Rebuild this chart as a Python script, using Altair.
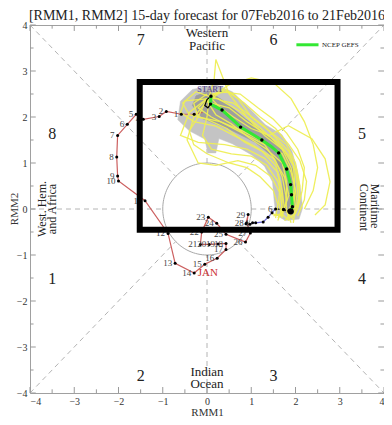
import altair as alt
import pandas as pd
import numpy as np

# ---------------- data ----------------
title_text = "[RMM1, RMM2] 15-day forecast for 07Feb2016 to 21Feb2016"

dec_rmm1 = [-0.10, -0.29]
dec_rmm2 = [2.10, 2.06]

jan_days = list(range(1, 32))
jan_rmm1 = [-0.58, -0.92, -1.08, -1.44, -1.60, -1.80, -2.02, -2.04, -2.02, -2.00,
            -1.40, -0.88, -0.72, -0.29, -0.05, 0.23, 0.43, 0.43, 0.25, 0.05,
            -0.15, -0.12, 0.03, 0.22, 0.43, 0.87, 0.98, 0.90, 0.93, 0.88, 0.97]
jan_rmm2 = [2.06, 2.12, 2.01, 1.95, 2.06, 1.84, 1.60, 1.13, 0.72, 0.61,
            0.18, -0.53, -1.18, -1.39, -1.20, -1.07, -0.88, -0.75, -0.76, -0.77,
            -0.77, -0.50, -0.18, -0.31, -0.55, -0.72, -0.52, -0.30, -0.12, -0.32, -0.33]

feb_days = [1, 2, 3, 4, 5, 6]
feb_rmm1 = [1.03, 1.10, 1.27, 1.38, 1.47, 1.55]
feb_rmm2 = [-0.30, -0.30, -0.28, -0.18, -0.08, 0.00]

link_rmm1 = [1.55, 1.73, 1.89]
link_rmm2 = [0.00, -0.01, -0.07]

mean_rmm1 = [0.09, 0.08, 0.34, 0.55, 0.76, 1.00, 1.24, 1.45, 1.62, 1.80, 1.89, 1.91, 1.93, 1.89]
mean_rmm2 = [2.45, 2.28, 2.15, 1.97, 1.78, 1.64, 1.50, 1.36, 1.22, 0.87, 0.53, 0.31, 0.05, -0.05]
dot_rmm1 = [0.09, 0.08, 0.34, 0.76, 1.24, 1.62, 1.80, 1.89, 1.91, 1.93, 1.73]
dot_rmm2 = [2.45, 2.28, 2.15, 1.78, 1.50, 1.22, 0.87, 0.53, 0.31, 0.05, -0.01]

start_rmm1 = [0.09, 0.00, -0.05, 0.02, 0.08]
start_rmm2 = [2.45, 2.38, 2.25, 2.20, 2.28]

outer_rmm1 = [-0.60, -0.33, 0.20, 0.57, 0.87, 1.32, 1.69, 1.92, 2.05, 2.12, 2.16, 2.08, 1.77,
              1.56, 1.52, 1.48, 1.30, 1.02, 0.57, 0.27, 0.20, 0.02, -0.05, -0.40, -0.66]
outer_rmm2 = [2.34, 2.60, 2.70, 2.55, 2.27, 1.83, 1.62, 1.26, 0.81, 0.38, 0.02, -0.22, -0.25,
              -0.13, 0.16, 0.59, 0.93, 1.17, 1.42, 1.53, 1.22, 1.22, 1.52, 1.70, 1.94]
inner_rmm1 = [-0.33, -0.10, 0.49, 1.09, 1.54, 1.69, 1.73, 1.69, 1.96, 2.03, 1.96, 1.77,
              1.39, 0.87, 0.42, 0.04, -0.25]
inner_rmm2 = [2.25, 1.96, 1.74, 1.45, 1.09, 0.66, 0.23, -0.05, -0.13, 0.23, 0.81, 1.24,
              1.60, 1.96, 2.32, 2.57, 2.46]

members = [
    [(0.00, 2.50), (-0.30, 2.30), (-0.20, 2.00), (0.30, 1.90), (0.80, 1.70), (1.30, 1.45), (1.70, 1.20), (1.90, 0.80), (2.00, 0.40), (1.95, 0.00), (1.80, -0.20)],
    [(0.10, 2.40), (0.40, 2.60), (0.70, 2.40), (1.00, 2.00), (1.40, 1.70), (1.80, 1.40), (2.00, 1.00), (2.10, 0.50), (2.05, 0.10), (1.85, -0.15)],
    [(0.00, 2.40), (-0.40, 2.10), (-0.60, 1.60), (-0.20, 1.45), (0.40, 1.40), (0.90, 1.30), (1.30, 1.10), (1.60, 0.80), (1.70, 0.40), (1.75, 0.00), (1.60, -0.20)],
    [(0.10, 2.40), (0.30, 2.20), (0.60, 2.00), (1.00, 1.75), (1.40, 1.60), (1.84, 1.81), (2.37, 1.53), (2.67, 1.09), (2.78, 0.59), (2.67, 0.09), (2.44, -0.13)],
    [(0.05, 2.45), (0.16, 2.80), (0.20, 3.25), (0.30, 3.00), (0.50, 2.50), (0.90, 2.00), (1.30, 1.60), (1.70, 1.30), (1.90, 0.90), (2.00, 0.40), (1.90, 0.00)],
    [(0.00, 2.40), (-0.20, 2.00), (-0.40, 1.70), (-0.30, 1.40), (0.00, 1.20), (0.50, 1.00), (0.90, 0.90), (1.20, 0.70), (1.50, 0.40), (1.60, 0.10), (1.55, -0.20)],
    [(0.10, 2.30), (0.50, 2.20), (0.90, 1.90), (1.30, 1.65), (1.60, 1.45), (1.90, 1.10), (2.05, 0.70), (2.10, 0.30), (2.00, -0.10), (1.75, -0.25)],
    [(0.05, 2.40), (-0.50, 2.35), (-0.60, 2.10), (-0.30, 1.90), (0.20, 1.80), (0.70, 1.55), (1.10, 1.35), (1.50, 1.10), (1.75, 0.70), (1.85, 0.30), (1.70, -0.10), (1.50, -0.15)],
    [(0.05, 2.40), (-0.30, 2.00), (-0.45, 1.50), (-0.20, 1.00), (0.20, 0.95), (0.70, 1.05), (1.10, 0.95), (1.45, 0.70), (1.65, 0.35), (1.70, 0.00), (1.60, -0.25)],
    [(0.10, 2.45), (0.35, 2.35), (0.60, 2.30), (0.95, 2.05), (1.30, 1.80), (1.60, 1.50), (1.85, 1.25), (2.00, 0.85), (2.05, 0.45), (2.00, 0.05), (1.95, -0.30)],
    [(0.00, 2.35), (0.20, 2.05), (0.55, 1.85), (0.95, 1.55), (1.35, 1.30), (1.70, 1.00), (1.80, 0.60), (1.80, 0.20), (1.70, -0.15), (1.45, -0.10)],
    [(0.10, 2.50), (0.50, 2.55), (0.85, 2.30), (1.20, 2.00), (1.55, 1.75), (1.85, 1.40), (2.10, 1.05), (2.25, 0.60), (2.20, 0.20), (2.05, -0.15)],
    [(0.00, 2.40), (-0.20, 2.20), (0.10, 2.00), (0.50, 1.80), (0.90, 1.60), (1.30, 1.40), (1.55, 1.05), (1.70, 0.70), (1.78, 0.30), (1.80, -0.05), (1.90, -0.30)],
    [(0.10, 2.45), (0.50, 2.70), (1.00, 2.85), (1.50, 2.75), (1.90, 2.40), (2.20, 1.90), (2.40, 1.40), (2.50, 0.90), (2.40, 0.40), (2.20, 0.00)],
    [(0.05, 2.45), (-0.25, 2.55), (-0.55, 2.30), (-0.40, 2.05), (0.00, 1.95), (0.45, 1.75), (0.85, 1.45), (1.25, 1.25), (1.55, 0.95), (1.65, 0.55), (1.62, 0.15), (1.70, -0.20)],
    [(0.10, 2.40), (0.25, 2.40), (0.70, 2.15), (1.10, 1.85), (1.45, 1.55), (1.75, 1.25), (1.95, 0.95), (1.98, 0.60), (1.95, 0.20), (1.82, -0.10), (1.95, -0.22)],
    [(0.05, 2.40), (0.00, 2.00), (-0.10, 1.60), (0.10, 1.30), (0.55, 1.20), (1.00, 1.15), (1.35, 0.95), (1.60, 0.60), (1.70, 0.25), (1.68, -0.10), (1.85, -0.25)],
    [(0.10, 2.45), (0.30, 2.55), (0.75, 2.50), (1.15, 2.20), (1.50, 1.95), (1.80, 1.65), (2.05, 1.30), (2.20, 0.90), (2.15, 0.40), (2.05, 0.00), (1.90, -0.20)],
]

phase_labels = ["7", "6", "8", "5", "1", "4", "2", "3"]
phase_rmm1 = [-1.5, 1.5, -3.5, 3.5, -3.5, 3.5, -1.5, 1.5]
phase_rmm2 = [3.67, 3.67, 1.63, 1.63, -1.52, -1.52, -3.63, -3.63]

region_labels = ["Western", "Pacific", "Indian", "Ocean"]
region_rmm1 = [0.0, 0.0, 0.0, 0.0]
region_rmm2 = [3.83, 3.55, -3.55, -3.81]

side_labels_left = ["West. Hem.", "and Africa"]
side_left_rmm1 = [-3.73, -3.50]
side_labels_right = ["Maritime", "Continent"]
side_right_rmm1 = [3.80, 3.55]

box_rmm1 = [-1.52, 2.95]
box_rmm2 = [2.76, -0.45]

major_ticks = [-4, -3, -2, -1, 0, 1, 2, 3, 4]
minor_ticks = [-3.5, -2.5, -1.5, -0.5, 0.5, 1.5, 2.5, 3.5]

SERIF = "Liberation Serif"

# ---------------- helpers ----------------
sc = alt.Scale(domain=[-4, 4], nice=False, zero=False)

xaxis = alt.Axis(values=major_ticks, format="d", ticks=False, tickSize=0, domain=False, grid=False,
                 labelFont=SERIF, labelFontSize=10, labelColor="#333", labelPadding=3,
                 title="RMM1", titleFont=SERIF, titleFontSize=11, titleFontWeight="normal",
                 titleColor="#333", titlePadding=0)
yaxis = alt.Axis(values=major_ticks, format="d", ticks=False, tickSize=0, domain=False, grid=False,
                 labelFont=SERIF, labelFontSize=10, labelColor="#333", labelPadding=3, title=None)


def X(f="x"):
    return alt.X(f"{f}:Q", scale=sc, axis=xaxis)


def Y(f="y"):
    return alt.Y(f"{f}:Q", scale=sc, axis=yaxis)


def path_df(xs, ys, gid="a"):
    return pd.DataFrame({"x": list(xs), "y": list(ys), "i": list(range(len(xs))), "g": gid})


# ---------------- layers ----------------
d = 0.7071
dash_segs = [((-4, -4), (-d, -d)), ((d, d), (4, 4)), ((-4, 4), (-d, d)), ((d, -d), (4, -4)),
             ((-4, 0), (-1, 0)), ((1, 0), (4, 0)), ((0, -4), (0, -1)), ((0, 1), (0, 4))]
dash_df = pd.DataFrame([{"x": a[0], "y": a[1], "x2": b[0], "y2": b[1]} for a, b in dash_segs])
dashes = alt.Chart(dash_df).mark_rule(color="#b4b4b4", strokeDash=[5, 4], strokeWidth=1).encode(
    x=X(), y=Y(), x2="x2:Q", y2="y2:Q")

t = np.linspace(0, 2 * np.pi, 121)
circle = alt.Chart(path_df(np.cos(t), np.sin(t))).mark_line(color="#a8a8a8", strokeWidth=1).encode(
    x=X(), y=Y(), order="i:Q")

rows = []
for v in major_ticks + minor_ticks:
    L = 0.13 if v in major_ticks else 0.08
    rows += [{"x": v, "x2": v, "y": -4, "y2": -4 + L}, {"x": v, "x2": v, "y": 4, "y2": 4 - L},
             {"x": -4, "x2": -4 + L, "y": v, "y2": v}, {"x": 4, "x2": 4 - L, "y": v, "y2": v}]
ticks = alt.Chart(pd.DataFrame(rows)).mark_rule(color="#999", strokeWidth=1).encode(
    x=X(), y=Y(), x2="x2:Q", y2="y2:Q")

outer = alt.Chart(path_df(outer_rmm1, outer_rmm2)).mark_line(
    fill="#c4c4c4", stroke="#c4c4c4", strokeWidth=0.5, interpolate="linear-closed").encode(
    x=X(), y=Y(), order="i:Q")
inner = alt.Chart(path_df(inner_rmm1, inner_rmm2)).mark_line(
    fill="#9e9e9e", stroke="#9e9e9e", strokeWidth=0.5, interpolate="linear-closed").encode(
    x=X(), y=Y(), order="i:Q")

mem_rows = []
for k, m in enumerate(members):
    for j, (a, b) in enumerate(m):
        mem_rows.append({"x": a, "y": b, "i": j, "g": f"m{k}"})
yellow = alt.Chart(pd.DataFrame(mem_rows)).mark_line(color="#eeee55", strokeWidth=1.3, opacity=0.95).encode(
    x=X(), y=Y(), order="i:Q", detail="g:N")

obs_x = dec_rmm1 + jan_rmm1
obs_y = dec_rmm2 + jan_rmm2
red = alt.Chart(path_df(obs_x, obs_y)).mark_line(color="#cc5f5f", strokeWidth=1.2).encode(
    x=X(), y=Y(), order="i:Q")
blue = alt.Chart(path_df([jan_rmm1[-1]] + feb_rmm1, [jan_rmm2[-1]] + feb_rmm2)).mark_line(
    color="#6a6ad8", strokeWidth=1.2).encode(x=X(), y=Y(), order="i:Q")
link = alt.Chart(path_df(link_rmm1, link_rmm2)).mark_line(color="black", strokeWidth=1.2).encode(
    x=X(), y=Y(), order="i:Q")
startpath = alt.Chart(path_df(start_rmm1, start_rmm2)).mark_line(color="black", strokeWidth=1.2).encode(
    x=X(), y=Y(), order="i:Q")

obs_pts = alt.Chart(pd.DataFrame({"x": obs_x[1:] + feb_rmm1, "y": obs_y[1:] + feb_rmm2})).mark_circle(
    color="black", size=9, opacity=1).encode(x=X(), y=Y())

green = alt.Chart(path_df(mean_rmm1, mean_rmm2)).mark_line(color="#33e833", strokeWidth=3).encode(
    x=X(), y=Y(), order="i:Q")
gdots = alt.Chart(pd.DataFrame({"x": dot_rmm1, "y": dot_rmm2})).mark_circle(
    color="black", size=12, opacity=1).encode(x=X(), y=Y())
bigdot = alt.Chart(pd.DataFrame({"x": [mean_rmm1[-1]], "y": [mean_rmm2[-1]]})).mark_circle(
    color="black", size=40, opacity=1).encode(x=X(), y=Y())

lab_df = pd.DataFrame({"x": jan_rmm1[:29] + [feb_rmm1[0], feb_rmm1[-1]],
                       "y": jan_rmm2[:29] + [feb_rmm2[0], feb_rmm2[-1]],
                       "t": [str(v) for v in jan_days[:29]] + [str(feb_days[0]), str(feb_days[-1])]})
day_labels = alt.Chart(lab_df).mark_text(font=SERIF, fontSize=9, color="#444", align="right",
                                         baseline="middle", dx=-3).encode(x=X(), y=Y(), text="t:N")

jan_txt = alt.Chart(pd.DataFrame({"x": [0.02], "y": [-1.40], "t": ["JAN"]})).mark_text(
    font=SERIF, fontSize=11, color="#cc3333").encode(x=X(), y=Y(), text="t:N")
start_txt = alt.Chart(pd.DataFrame({"x": [0.07], "y": [2.58], "t": ["START"]})).mark_text(
    font=SERIF, fontSize=8, fontWeight="bold", color="#6b5b95").encode(x=X(), y=Y(), text="t:N")

phase_txt = alt.Chart(pd.DataFrame({"x": phase_rmm1, "y": phase_rmm2, "t": phase_labels})).mark_text(
    font=SERIF, fontSize=16, color="#222").encode(x=X(), y=Y(), text="t:N")
region_txt = alt.Chart(pd.DataFrame({"x": region_rmm1, "y": region_rmm2, "t": region_labels})).mark_text(
    font=SERIF, fontSize=13, color="#222").encode(x=X(), y=Y(), text="t:N")
left_txt = alt.Chart(pd.DataFrame({"x": side_left_rmm1, "y": [0.0, 0.0], "t": side_labels_left})).mark_text(
    font=SERIF, fontSize=12, color="#222", angle=270).encode(x=X(), y=Y(), text="t:N")
right_txt = alt.Chart(pd.DataFrame({"x": side_right_rmm1, "y": [0.55, 0.55], "t": side_labels_right})).mark_text(
    font=SERIF, fontSize=12, color="#222", angle=90, align="left").encode(x=X(), y=Y(), text="t:N")

leg_line = alt.Chart(pd.DataFrame({"x": [2.02], "x2": [2.52], "y": [3.57]})).mark_rule(
    color="#33e833", strokeWidth=3).encode(x=X(), x2="x2:Q", y=Y())
leg_txt = alt.Chart(pd.DataFrame({"x": [2.6], "y": [3.57], "t": ["NCEP GEFS"]})).mark_text(
    font=SERIF, fontSize=7, color="#222", align="left").encode(x=X(), y=Y(), text="t:N")

title_mark = alt.Chart(pd.DataFrame({"x": [0.0], "y": [4.0], "t": [title_text]})).mark_text(
    font=SERIF, fontSize=14, color="#222", baseline="bottom", dy=-2).encode(x=X(), y=Y(), text="t:N")
ytitle_mark = alt.Chart(pd.DataFrame({"x": [-4.0], "y": [0.0], "t": ["RMM2"]})).mark_text(
    font=SERIF, fontSize=11, color="#333", angle=270, baseline="middle", dy=-15).encode(
    x=X(), y=Y(), text="t:N")

box = alt.Chart(pd.DataFrame({"x": [box_rmm1[0]], "x2": [box_rmm1[1]], "y": [box_rmm2[0]], "y2": [box_rmm2[1]]})).mark_rect(
    fillOpacity=0, stroke="black", strokeWidth=6).encode(x=X(), x2="x2:Q", y=Y(), y2="y2:Q")

chart = alt.layer(
    dashes, circle, ticks, outer, inner, red, blue, link, yellow, startpath, green, obs_pts, gdots, bigdot,
    day_labels, jan_txt, start_txt, phase_txt, region_txt, left_txt, right_txt, leg_line, leg_txt,
    title_mark, ytitle_mark, box
).properties(
    width=354, height=368,
    autosize=alt.AutoSizeParams(type="none"),
    padding={"left": 22, "top": 17, "right": 0, "bottom": 24},
).configure_view(stroke="#a0a0a0", strokeWidth=1)

chart.save("out.html", embed_options={"renderer": "svg", "actions": False})
